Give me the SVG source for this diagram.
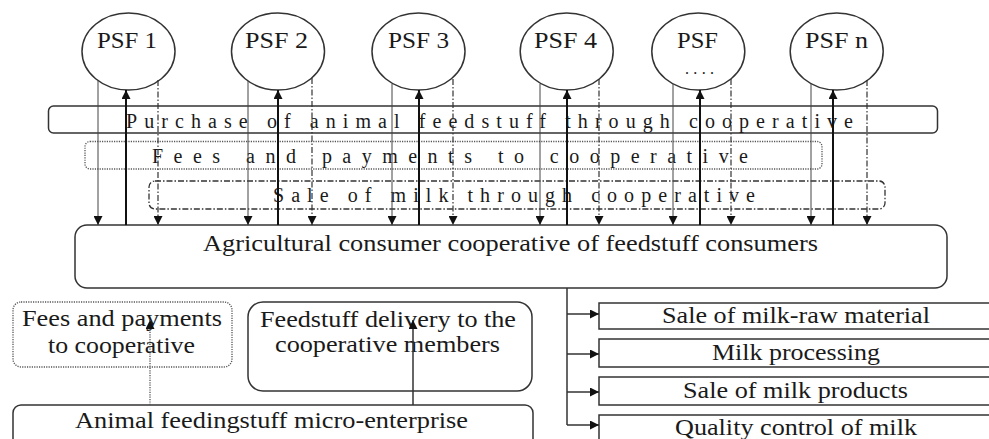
<svg xmlns="http://www.w3.org/2000/svg" width="989" height="439" viewBox="0 0 989 439">
<defs>
<marker id="ah" viewBox="0 0 10 10" refX="10" refY="5" markerWidth="9" markerHeight="9" markerUnits="userSpaceOnUse" orient="auto">
<path d="M0,0 L10,5 L0,10 z" fill="#111"/>
</marker>
</defs>
<style>
.t{font-family:'Liberation Serif','Times New Roman',serif;font-size:23px;fill:#1a1a1a}
.b{font-family:'Liberation Serif','Times New Roman',serif;font-size:20px;fill:#1a1a1a}
.node{fill:#fff;stroke:#333;stroke-width:1.5}
.sol{fill:none;stroke:#333;stroke-width:1.5}
.dot{fill:none;stroke:#555;stroke-width:1.3;stroke-dasharray:1.2,1.2}
.dd{fill:none;stroke:#333;stroke-width:1.3;stroke-dasharray:6,2,1.5,2}
.dn{stroke:#444;stroke-width:1;fill:none}
.up{stroke:#111;stroke-width:2;fill:none}
.dash{stroke:#333;stroke-width:1.2;fill:none;stroke-dasharray:6,2,1.5,2}
</style>

<g id="band1"><rect class="sol" x="48.5" y="106" width="889" height="27" rx="5"/>
<text class="b" x="126" y="128" textLength="727" lengthAdjust="spacing">Purchase of animal feedstuff through cooperative</text></g>
<g id="band2"><rect class="dot" x="85" y="141.5" width="737" height="27.5" rx="5"/>
<text class="b" x="152" y="163" textLength="596" lengthAdjust="spacing">Fees and payments to cooperative</text></g>
<g id="band3"><rect class="dd" x="149" y="181" width="736" height="28" rx="6"/>
<text class="b" x="273" y="202" textLength="482" lengthAdjust="spacing">Sale of milk through cooperative</text></g>

<g id="psf1"><ellipse class="node" cx="128.5" cy="51.5" rx="46.5" ry="38.5"/><text class="t" x="97" y="48" textLength="60" lengthAdjust="spacingAndGlyphs">PSF 1</text></g>
<g id="psf2"><ellipse class="node" cx="278" cy="51.5" rx="46.5" ry="38.5"/><text class="t" x="245" y="48" textLength="63" lengthAdjust="spacingAndGlyphs">PSF 2</text></g>
<g id="psf3"><ellipse class="node" cx="418.5" cy="51.5" rx="46.5" ry="38.5"/><text class="t" x="388" y="48" textLength="61" lengthAdjust="spacingAndGlyphs">PSF 3</text></g>
<g id="psf4"><ellipse class="node" cx="566.7" cy="51.5" rx="46.5" ry="38.5"/><text class="t" x="534" y="48" textLength="63" lengthAdjust="spacingAndGlyphs">PSF 4</text></g>
<g id="psf5"><ellipse class="node" cx="698.3" cy="51.5" rx="46.5" ry="38.5"/><text class="t" x="677" y="48" textLength="41" lengthAdjust="spacingAndGlyphs">PSF</text><text class="t" x="685" y="74" textLength="29" lengthAdjust="spacing" style="font-size:16px">....</text></g>
<g id="psfn"><ellipse class="node" cx="836.7" cy="51.5" rx="46.5" ry="38.5"/><text class="t" x="805" y="48" textLength="63" lengthAdjust="spacingAndGlyphs">PSF n</text></g>

<g id="coop"><rect class="node" x="75" y="225" width="872" height="63" rx="12"/>
<text class="t" x="203" y="251" textLength="615" lengthAdjust="spacingAndGlyphs">Agricultural consumer cooperative of feedstuff consumers</text></g>

<g id="fees"><rect class="dot" x="13" y="302" width="219" height="65" rx="8"/>
<text class="t" x="22" y="326" textLength="200" lengthAdjust="spacingAndGlyphs">Fees and payments</text><text class="t" x="48" y="353" textLength="147" lengthAdjust="spacingAndGlyphs">to cooperative</text></g>
<g id="delivery"><rect class="node" x="248" y="302" width="284" height="89" rx="15"/>
<text class="t" x="260" y="327" textLength="256" lengthAdjust="spacingAndGlyphs">Feedstuff delivery to the</text><text class="t" x="275" y="352" textLength="225" lengthAdjust="spacingAndGlyphs">cooperative members</text></g>
<g id="micro"><rect class="node" x="13" y="405" width="520" height="60" rx="8"/>
<text class="t" x="75" y="428" textLength="393" lengthAdjust="spacingAndGlyphs">Animal feedingstuff micro-enterprise</text></g>

<g id="r1"><rect class="node" x="599" y="303" width="400" height="26"/><text class="t" x="662" y="323" textLength="268" lengthAdjust="spacingAndGlyphs">Sale of milk-raw material</text></g>
<g id="r2"><rect class="node" x="599" y="339" width="400" height="28"/><text class="t" x="712" y="360" textLength="168" lengthAdjust="spacingAndGlyphs">Milk processing</text></g>
<g id="r3"><rect class="node" x="599" y="377" width="400" height="28"/><text class="t" x="683" y="398" textLength="225" lengthAdjust="spacingAndGlyphs">Sale of milk products</text></g>
<g id="r4"><rect class="node" x="599" y="415" width="400" height="40"/><text class="t" x="675" y="435" textLength="242" lengthAdjust="spacingAndGlyphs">Quality control of milk</text></g>

<g id="connectors">
<line class="dn" x1="98" y1="81" x2="98" y2="225" marker-end="url(#ah)"/>
<line class="up" x1="126" y1="225" x2="126" y2="90" marker-end="url(#ah)"/>
<line class="dash" x1="158" y1="80" x2="158" y2="225" marker-end="url(#ah)"/>

<line class="dn" x1="248" y1="81" x2="248" y2="225" marker-end="url(#ah)"/>
<line class="up" x1="278" y1="225" x2="278" y2="90" marker-end="url(#ah)"/>
<line class="dash" x1="312" y1="78" x2="312" y2="225" marker-end="url(#ah)"/>

<line class="dn" x1="392" y1="84" x2="392" y2="225" marker-end="url(#ah)"/>
<line class="up" x1="419" y1="225" x2="419" y2="90" marker-end="url(#ah)"/>
<line class="dash" x1="453" y1="79" x2="453" y2="225" marker-end="url(#ah)"/>

<line class="dn" x1="540" y1="84" x2="540" y2="225" marker-end="url(#ah)"/>
<line class="up" x1="567" y1="225" x2="567" y2="90" marker-end="url(#ah)"/>
<line class="dash" x1="599" y1="79" x2="599" y2="225" marker-end="url(#ah)"/>

<line class="dn" x1="673" y1="84" x2="673" y2="225" marker-end="url(#ah)"/>
<line class="up" x1="700" y1="225" x2="700" y2="90" marker-end="url(#ah)"/>
<line class="dash" x1="731" y1="79" x2="731" y2="225" marker-end="url(#ah)"/>

<line class="dn" x1="811" y1="83" x2="811" y2="225" marker-end="url(#ah)"/>
<line class="up" x1="833" y1="225" x2="833" y2="90" marker-end="url(#ah)"/>
<line class="dash" x1="867" y1="80" x2="867" y2="225" marker-end="url(#ah)"/>

<path class="sol" d="M567,288 V425"/>
<line class="sol" x1="567" y1="314" x2="599" y2="314" marker-end="url(#ah)"/>
<line class="sol" x1="567" y1="354" x2="599" y2="354" marker-end="url(#ah)"/>
<line class="sol" x1="567" y1="392" x2="599" y2="392" marker-end="url(#ah)"/>
<line class="sol" x1="567" y1="425" x2="599" y2="425" marker-end="url(#ah)"/>

<line class="dot" x1="150" y1="405" x2="150" y2="320" marker-end="url(#ah)"/>
<line class="sol" x1="413" y1="405" x2="413" y2="320" marker-end="url(#ah)"/>
</g>
</svg>
